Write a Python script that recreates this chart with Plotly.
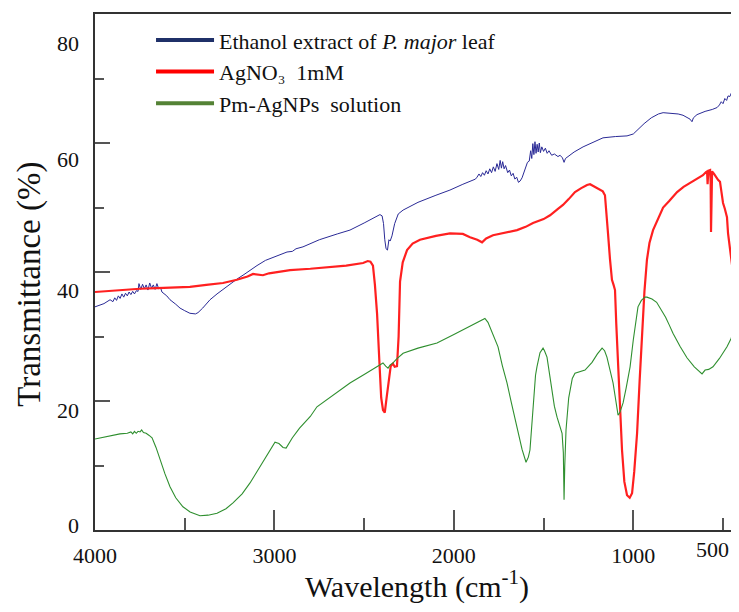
import plotly.graph_objects as go

# ---------------- data ----------------
blue_wn = [4000, 3950, 3916, 3900, 3890, 3880, 3870, 3860, 3850, 3840, 3830, 3820, 3810, 3800, 3790, 3780, 3770,
           3760, 3755, 3745, 3735, 3725, 3715, 3705, 3695, 3685, 3675, 3665, 3655, 3645, 3635, 3627, 3600, 3582,
           3550, 3526, 3500, 3471, 3440, 3426, 3400, 3359, 3320, 3287, 3250, 3209, 3170, 3136, 3097, 3050, 2986,
           2950, 2930, 2900, 2880, 2841, 2750, 2650, 2579, 2500, 2440, 2412, 2400, 2392, 2385, 2378, 2370, 2362,
           2355, 2345, 2330, 2310, 2283, 2200, 2100, 2022, 1950, 1900, 1880, 1871, 1860, 1850, 1840, 1830, 1820,
           1810, 1800, 1790, 1780, 1770, 1760, 1750, 1742, 1735, 1728, 1720, 1712, 1700, 1690, 1680, 1670, 1660,
           1650, 1640, 1631, 1620, 1605, 1590, 1580, 1572, 1566, 1560, 1554, 1548, 1542, 1536, 1530, 1524, 1518,
           1510, 1500, 1490, 1480, 1470, 1455, 1440, 1420, 1408, 1395, 1386, 1378, 1360, 1330, 1280, 1230, 1169,
           1100, 1035, 1000, 979, 940, 900, 860, 834, 790, 750, 723, 700, 684, 673, 665, 645, 600, 560, 533, 520,
           510, 500, 490, 480, 472, 462, 450, 440, 433, 425, 421, 419, 416, 411]
blue_t = [34.6, 35.1, 35.7, 35.4, 36.0, 35.6, 36.3, 35.9, 36.6, 36.1, 36.7, 36.3, 36.9, 36.5, 37.0, 36.6, 37.1,
          37.0, 38.2, 37.3, 38.1, 37.4, 38.0, 37.2, 38.3, 37.5, 38.0, 37.3, 38.2, 37.4, 37.6, 36.9, 36.3, 35.7,
          35.0, 34.4, 34.0, 33.6, 33.5, 33.7, 34.4, 35.7, 36.6, 37.3, 38.1, 38.9, 39.6, 40.3, 41.0, 41.8, 42.5,
          42.8, 43.1, 43.2, 43.6, 43.9, 45.0, 45.9, 46.5, 47.6, 48.5, 48.9, 48.7, 47.5, 45.0, 43.6, 43.4, 45.0,
          44.8, 45.6, 47.5, 49.0, 49.6, 50.8, 51.9, 52.7, 53.6, 54.2, 54.4, 54.7, 55.2, 54.8, 55.4, 55.0, 55.7,
          55.2, 56.0, 55.4, 56.3, 55.6, 56.8, 55.9, 57.3, 56.1, 57.1, 56.0, 56.5, 55.4, 55.8, 54.9, 55.3, 54.4,
          54.7, 53.9, 54.1, 54.6, 55.8, 57.0, 57.2, 58.8, 57.6, 59.9, 58.2, 60.2, 58.4, 59.8, 58.6, 60.0, 58.5,
          59.4, 58.7, 59.2, 58.4, 58.8, 58.1, 58.3, 57.9, 58.1, 57.7, 57.0, 57.6, 58.0, 58.6, 59.4, 60.0, 60.8,
          61.0, 61.1, 61.4, 62.0, 63.0, 63.9, 64.5, 64.7, 64.6, 64.5, 64.3, 64.0, 63.7, 63.3, 63.9, 64.4, 64.9,
          65.2, 65.5, 65.9, 66.4, 66.1, 66.9, 66.6, 67.3, 67.2, 68.0, 68.2, 68.9, 69.4, 72.0, 69.8, 70.2, 70.6]

red_wn = [4000, 3900, 3844, 3750, 3654, 3543, 3471, 3380, 3287, 3209, 3150, 3119, 3080, 3064, 3030, 2986, 2913,
          2800, 2674, 2600, 2506, 2480, 2465, 2451, 2440, 2428, 2415, 2405, 2395, 2385, 2375, 2365, 2352, 2340,
          2330, 2317, 2308, 2300, 2285, 2261, 2230, 2189, 2100, 2022, 1950, 1910, 1870, 1843, 1820, 1782, 1720,
          1648, 1600, 1559, 1500, 1464, 1420, 1392, 1360, 1325, 1290, 1258, 1241, 1210, 1186, 1170, 1158, 1150,
          1141, 1130, 1119, 1110, 1102, 1095, 1085, 1075, 1063, 1050, 1035, 1020, 1007, 995, 979, 965, 951, 938,
          924, 910, 890, 860, 834, 800, 756, 720, 684, 650, 612, 595, 589, 586, 582, 572, 569, 567, 565, 561,
          550, 540, 528, 517, 508, 500, 490, 478, 472, 460, 450, 444, 433, 422, 411]
red_t = [36.9, 37.1, 37.3, 37.4, 37.5, 37.6, 37.7, 38.0, 38.3, 38.8, 39.3, 39.7, 39.6, 39.5, 39.8, 40.0, 40.3,
         40.5, 40.8, 41.0, 41.4, 41.7, 41.6, 41.0, 38.0, 33.5, 26.0, 20.5, 18.6, 18.2, 20.5, 23.0, 25.4, 25.8,
         25.3, 25.4, 30.0, 38.5, 41.5, 43.4, 44.4, 45.0, 45.6, 46.0, 45.9, 45.4, 45.0, 44.6, 45.2, 45.7, 46.1,
         46.5, 47.0, 47.6, 48.2, 48.8, 49.8, 50.4, 51.3, 52.4, 53.0, 53.5, 53.6, 53.1, 52.8, 52.5, 51.9, 49.5,
         46.0, 42.0, 38.8, 38.0, 37.2, 32.0, 25.3, 18.5, 12.4, 7.5, 5.4, 5.0, 5.7, 9.0, 15.0, 23.0, 30.5, 37.0,
         41.9, 44.5, 46.5, 48.5, 50.0, 51.0, 52.4, 53.2, 53.8, 54.4, 55.0, 55.5, 55.6, 53.6, 55.7, 55.8, 54.0,
         46.2, 54.5, 55.6, 55.2, 54.7, 54.3, 54.0, 52.5, 50.7, 49.8, 48.5, 46.0, 43.5, 40.8, 39.8, 36.5, 33.6,
         31.5]

green_wn = [4000, 3950, 3900, 3861, 3820, 3800, 3790, 3780, 3770, 3760, 3749, 3740, 3730, 3715, 3700, 3682, 3660,
            3638, 3610, 3582, 3550, 3510, 3470, 3415, 3370, 3320, 3270, 3231, 3180, 3136, 3090, 3041, 3010, 2997,
            2975, 2952, 2935, 2920, 2900, 2860, 2800, 2763, 2700, 2650, 2579, 2500, 2440, 2395, 2380, 2367, 2355,
            2339, 2320, 2283, 2200, 2094, 2000, 1900, 1843, 1827, 1810, 1790, 1754, 1730, 1704, 1680, 1648, 1620,
            1598, 1585, 1576, 1560, 1545, 1537, 1520, 1503, 1495, 1481, 1460, 1440, 1425, 1410, 1397, 1390, 1386,
            1382, 1375, 1360, 1340, 1325, 1300, 1269, 1230, 1200, 1174, 1160, 1147, 1130, 1113, 1100, 1085, 1075,
            1057, 1040, 1018, 1000, 985, 974, 955, 935, 924, 910, 896, 870, 851, 820, 800, 779, 740, 701, 660,
            630, 617, 600, 580, 556, 520, 478, 455, 433, 425, 422, 419, 416, 411]
green_t = [14.1, 14.4, 14.7, 14.9, 15.0, 15.2, 14.9, 15.3, 15.0, 15.3, 15.2, 15.5, 15.1, 15.0, 14.7, 14.3, 12.8,
           10.9, 8.7, 6.7, 5.0, 3.6, 2.8, 2.2, 2.3, 2.6, 3.3, 4.2, 5.6, 7.3, 9.4, 11.6, 13.0, 13.6,
           13.4, 12.8, 12.7, 13.4, 14.3, 15.8, 17.6, 19.1, 20.4, 21.3, 22.8, 24.1, 25.1, 25.9, 25.4, 25.1, 25.6,
           25.9, 26.5, 27.4, 28.2, 29.0, 30.3, 31.7, 32.6, 32.8, 32.2, 30.8, 28.4, 25.5, 22.8, 19.8, 16.0, 12.5,
           10.5, 11.3, 12.4, 18.5, 24.0, 25.3, 27.5, 28.2, 27.8, 26.8, 22.5, 19.2, 17.5, 16.0, 15.0, 12.0, 4.7,
           10.0, 15.5, 20.5, 23.5, 24.3, 24.5, 24.8, 26.0, 27.3, 28.2, 27.8, 26.8, 25.0, 22.8, 20.5, 17.8, 18.2,
           19.7, 22.0, 25.3, 29.5, 33.0, 34.6, 35.6, 36.1, 36.1, 36.0, 35.8, 35.3, 34.4, 33.0, 31.8, 30.5, 28.5,
           26.7, 25.3, 24.6, 24.2, 24.8, 24.9, 25.3, 26.6, 28.4, 29.7, 31.5, 32.3, 33.6, 34.4, 33.2, 32.8]

series_names = ["Ethanol extract of <i>P. major</i> leaf", "AgNO\u2083  1mM", "Pm-AgNPs  solution"]
line_colors = ["#2a2a96", "#ff2020", "#2f8f2f"]
legend_colors = ["#1f3068", "#ff0000", "#548235"]

x_major = [4000, 3000, 2000, 1000]
x_minor = [3500, 2500, 1500, 500]
y_major = [0, 20, 40, 60, 80]
y_minor = [10, 30, 50, 70]
y_label_text = ["80", "60", "40", "20", "0"]
y_label_pos = [75.5, 57.4, 37.2, 18.6, 0.8]

FONT = "Liberation Serif, Times New Roman, serif"

fig = go.Figure()
widths = [1.0, 2.2, 1.1]
for wn, t, c, w in zip([blue_wn, red_wn, green_wn], [blue_t, red_t, green_t], line_colors, widths):
    fig.add_trace(go.Scatter(x=wn, y=t, mode="lines", line=dict(color=c, width=w),
                             showlegend=False, hoverinfo="skip"))
# legend entries
for name, c in zip(series_names, legend_colors):
    fig.add_trace(go.Scatter(x=[None], y=[None], mode="lines", name=name,
                             line=dict(color=c, width=4), showlegend=True))
# axis carrying the y tick labels
fig.add_trace(go.Scatter(x=[None], y=[None], yaxis="y2", showlegend=False))

fig.update_layout(
    width=731, height=596,
    margin=dict(l=87, r=0, t=6, b=74),
    paper_bgcolor="white", plot_bgcolor="white",
    font=dict(family=FONT, color="#111"),
    xaxis=dict(range=[4000, 411], tickvals=x_major, ticktext=[str(v) for v in x_major],
               ticks="inside", ticklen=20, tickwidth=1.5, tickcolor="#555",
               showline=True, linecolor="#333", linewidth=1.5, mirror=True,
               showgrid=False, zeroline=False, automargin=False,
               tickfont=dict(size=22, family=FONT, color="#111"), ticklabelstandoff=5,
               minor=dict(tickvals=x_minor, ticks="inside", ticklen=12, tickwidth=1.5,
                          tickcolor="#555", showgrid=False),
               title=dict(text="Wavelength (cm<sup>-1</sup>)", font=dict(size=30, family=FONT, color="#111"),
                          standoff=8)),
    yaxis=dict(range=[0, 80], tickvals=y_major, showticklabels=False,
               ticks="inside", ticklen=15, tickwidth=1.5, tickcolor="#555",
               showline=True, linecolor="#333", linewidth=1.5, mirror=False,
               showgrid=False, zeroline=False, automargin=False,
               minor=dict(tickvals=y_minor, ticks="inside", ticklen=9, tickwidth=1.5,
                          tickcolor="#555", showgrid=False)),
    yaxis2=dict(range=[0, 80], overlaying="y", side="left", tickvals=y_label_pos, ticktext=y_label_text,
                ticks="", showline=False, showgrid=False, zeroline=False, automargin=False,
                tickfont=dict(size=22, family=FONT, color="#111"), ticklabelstandoff=15),
    legend=dict(x=0.087, y=0.99, xanchor="left", yanchor="top", bgcolor="rgba(0,0,0,0)",
                font=dict(size=22, family=FONT, color="#111"), tracegroupgap=0, itemwidth=58),
    annotations=[dict(text="Transmittance (%)", textangle=-90, xref="paper", yref="paper",
                      x=-0.101, y=0.477, xanchor="center", yanchor="middle", showarrow=False,
                      font=dict(size=33, family=FONT, color="#111")),
                 dict(text="500", xref="x", yref="paper", x=561, y=0, yanchor="top", yshift=-5,
                      showarrow=False, font=dict(size=22, family=FONT, color="#111"))],
)

fig.write_html("out.html")
